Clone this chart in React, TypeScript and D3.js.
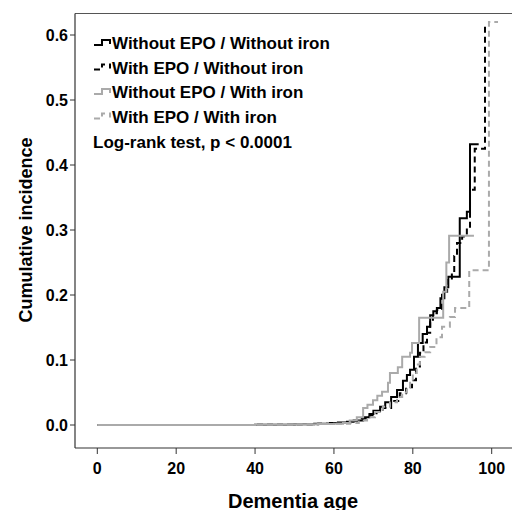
import React from 'react';
import * as d3 from 'd3';

// readings (age, cumulative incidence)
const noEpoNoIronAge = [0, 40, 50, 55, 59, 61, 63.3, 65, 67.4, 69, 70, 71.7, 73, 74.5, 76, 77.5, 78.5, 79.3, 80.3, 81.3, 82.5, 83.6, 84.4, 85.2, 86.1, 87, 88, 89, 91.9, 93.7, 94.5, 96.7];
const noEpoNoIronVal = [0, 0.0005, 0.001, 0.002, 0.003, 0.004, 0.005, 0.007, 0.012, 0.017, 0.022, 0.028, 0.035, 0.043, 0.054, 0.068, 0.077, 0.085, 0.105, 0.126, 0.14, 0.151, 0.169, 0.175, 0.18, 0.195, 0.212, 0.228, 0.318, 0.328, 0.432, 0.432];

const epoNoIronAge = [0, 40, 50, 56, 60, 64.1, 66.5, 69.1, 70.8, 72.4, 74.5, 76.7, 78.3, 79.8, 80.8, 81.8, 82.7, 83.6, 84.4, 85.1, 86.1, 87.4, 88.7, 89.9, 90.5, 91.2, 92.5, 93.7, 94.5, 95.7, 98.3, 98.4];
const epoNoIronVal = [0, 0.0005, 0.001, 0.002, 0.003, 0.006, 0.01, 0.015, 0.02, 0.026, 0.037, 0.049, 0.058, 0.069, 0.09, 0.111, 0.127, 0.142, 0.158, 0.172, 0.177, 0.205, 0.223, 0.235, 0.26, 0.28, 0.29, 0.303, 0.362, 0.425, 0.618, 0.618];

const noEpoIronAge = [0, 40, 50, 56, 60, 62.3, 64, 65.8, 67.4, 68.5, 69.9, 71, 72.2, 73.7, 74.2, 76.2, 77.3, 79.3, 79.8, 81.6, 87.7, 88.5, 89.2, 95.5];
const noEpoIronVal = [0, 0.0005, 0.001, 0.0015, 0.002, 0.003, 0.007, 0.012, 0.026, 0.031, 0.038, 0.045, 0.051, 0.065, 0.08, 0.089, 0.105, 0.111, 0.126, 0.165, 0.205, 0.25, 0.291, 0.291];

const epoIronAge = [0, 40, 50, 56, 60, 64.1, 66.3, 68.4, 70.4, 72.4, 74.2, 76, 77.3, 78.5, 79.3, 80, 81, 81.8, 83, 84.4, 86, 87.4, 89.4, 90.7, 94.3, 99.3, 101.6];
const epoIronVal = [0, 0.0005, 0.001, 0.0015, 0.002, 0.003, 0.007, 0.012, 0.02, 0.028, 0.035, 0.043, 0.05, 0.058, 0.068, 0.08, 0.093, 0.105, 0.112, 0.12, 0.135, 0.151, 0.166, 0.18, 0.238, 0.62, 0.62];

const xTicks = [0, 20, 40, 60, 80, 100];
const yTicks = [0, 0.1, 0.2, 0.3, 0.4, 0.5, 0.6];

const seriesNames = [
  'Without EPO / Without iron',
  'With EPO / Without iron',
  'Without EPO / With iron',
  'With EPO / With iron',
];

const W = 512;
const H = 510;
const left = 75;
const top = 13.5;
const bottom = 448;

const x = d3.scaleLinear().domain([0, 100]).range([97.3, 491.7]);
const y = d3.scaleLinear().domain([0, 0.6]).range([425, 35]);

const line = d3.line<[number, number]>()
  .x(d => x(d[0]))
  .y(d => y(d[1]))
  .curve(d3.curveStepAfter);

const zip = (a: number[], b: number[]) => a.map((v, i) => [v, b[i]] as [number, number]);

const GRAY = '#aaaaaa';
const font = 'Arial, "Liberation Sans", sans-serif';

const series = [
  { name: seriesNames[0], data: zip(noEpoNoIronAge, noEpoNoIronVal), color: '#000', dash: undefined as string | undefined },
  { name: seriesNames[1], data: zip(epoNoIronAge, epoNoIronVal), color: '#000', dash: '6,4' },
  { name: seriesNames[2], data: zip(noEpoIronAge, noEpoIronVal), color: GRAY, dash: undefined },
  { name: seriesNames[3], data: zip(epoIronAge, epoIronVal), color: GRAY, dash: '6,4' },
];

export default function App() {
  // black first so the flat gray segment sits on top, like the reference
  const drawOrder = [1, 0, 3, 2];
  return (
    <svg width={W} height={H} style={{ position: 'absolute', left: 0, top: 0, background: '#fff' }} fontFamily={font}>
      {/* frame */}
      <line x1={left} x2={W} y1={top} y2={top} stroke="#555" strokeWidth={1.2} />
      <line x1={left} x2={left} y1={top} y2={bottom} stroke="#333" strokeWidth={1.2} />
      <line x1={left} x2={W} y1={bottom} y2={bottom} stroke="#333" strokeWidth={1.2} />

      {/* y axis */}
      {yTicks.map(t => (
        <g key={t}>
          <line x1={left - 5} x2={left} y1={y(t)} y2={y(t)} stroke="#333" />
          <text x={left - 7} y={y(t)} dy="0.35em" textAnchor="end" fontSize={16} fontWeight="bold">
            {t.toFixed(1)}
          </text>
        </g>
      ))}
      {/* x axis */}
      {xTicks.map(t => (
        <g key={t}>
          <line x1={x(t)} x2={x(t)} y1={bottom} y2={bottom + 6} stroke="#333" />
          <text x={x(t)} y={474} textAnchor="middle" fontSize={16} fontWeight="bold">{t}</text>
        </g>
      ))}

      <text x={293} y={508} textAnchor="middle" fontSize={20} fontWeight="bold">Dementia age</text>
      <text transform={`translate(32,230) rotate(-90)`} textAnchor="middle" fontSize={18} fontWeight="bold">
        Cumulative incidence
      </text>

      {/* curves */}
      {drawOrder.map(i => (
        <path key={i} d={line(series[i].data) || ''} fill="none" stroke={series[i].color}
          strokeWidth={2} strokeDasharray={series[i].dash} />
      ))}

      {/* legend */}
      {series.map((s, i) => {
        const by = 49 + i * 24.5;
        return (
          <g key={s.name}>
            <path d={`M94,${by - 4} H102 V${by - 9} H110 V${by - 5}`} fill="none" stroke={s.color}
              strokeWidth={2} strokeDasharray={s.dash} />
            <text x={112} y={by} fontSize={17} fontWeight="bold">{s.name}</text>
          </g>
        );
      })}
      <text x={93} y={148} fontSize={17} fontWeight="bold">Log-rank test, p &lt; 0.0001</text>
    </svg>
  );
}
